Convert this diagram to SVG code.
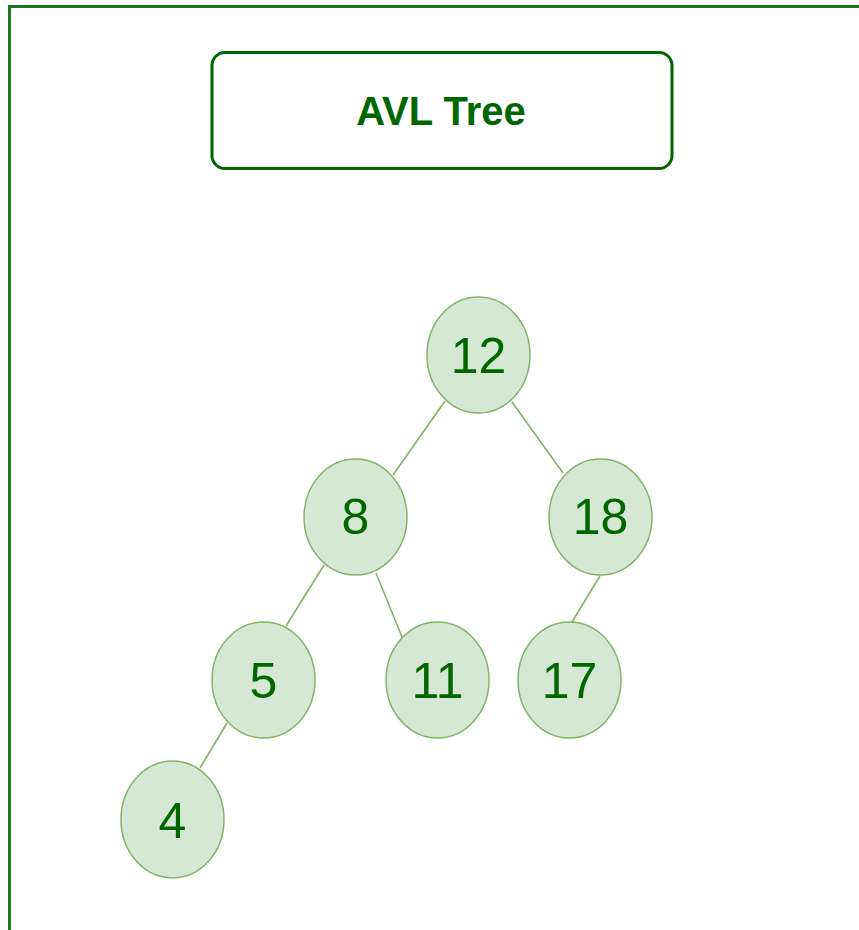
<svg xmlns="http://www.w3.org/2000/svg" width="859" height="930" viewBox="0 0 859 930">
<style>
.node ellipse{fill:#d5e8d4;stroke:#82b366;stroke-width:1.5}
.node text{font-family:"Liberation Sans",Arial,sans-serif;font-size:50px;fill:#006600;text-anchor:middle}
.edge{stroke:#82b366;stroke-width:1.6;fill:none}
</style>
<rect x="0" y="0" width="859" height="930" fill="#ffffff"/>
<path d="M9.5 940 V6.5 H870" fill="none" stroke="#1a7a1a" stroke-width="3"/>
<g id="title">
<rect x="212" y="52.5" width="460" height="116" rx="13" ry="13" fill="#ffffff" stroke="#006600" stroke-width="3"/>
<text x="441" y="124.5" font-family="Liberation Sans,Arial,sans-serif" font-size="40" font-weight="bold" fill="#006600" text-anchor="middle">AVL Tree</text>
</g>
<g id="connectors">
<line class="edge" x1="445" y1="401" x2="393" y2="475"/>
<line class="edge" x1="512" y1="402" x2="563" y2="473"/>
<line class="edge" x1="324" y1="565" x2="286" y2="626"/>
<line class="edge" x1="376" y1="573" x2="402" y2="637"/>
<line class="edge" x1="600" y1="576" x2="572" y2="622"/>
<line class="edge" x1="227" y1="723" x2="200" y2="768"/>
</g>
<g id="n12" class="node"><ellipse cx="478.5" cy="355" rx="51.5" ry="58"/><text x="478.5" y="373">12</text></g>
<g id="n8" class="node"><ellipse cx="355.5" cy="517" rx="51.5" ry="58"/><text x="355.5" y="533.5">8</text></g>
<g id="n18" class="node"><ellipse cx="600.5" cy="517" rx="51.5" ry="58"/><text x="600.5" y="534">18</text></g>
<g id="n5" class="node"><ellipse cx="263.5" cy="680" rx="51.5" ry="58"/><text x="263.5" y="698">5</text></g>
<g id="n11" class="node"><ellipse cx="437.5" cy="680" rx="51.5" ry="58"/><text x="437.5" y="698">11</text></g>
<g id="n17" class="node"><ellipse cx="569.5" cy="680" rx="51.5" ry="58"/><text x="569.5" y="698">17</text></g>
<g id="n4" class="node"><ellipse cx="172.5" cy="819.5" rx="51.5" ry="58.5"/><text x="172.5" y="837.5">4</text></g>
</svg>
